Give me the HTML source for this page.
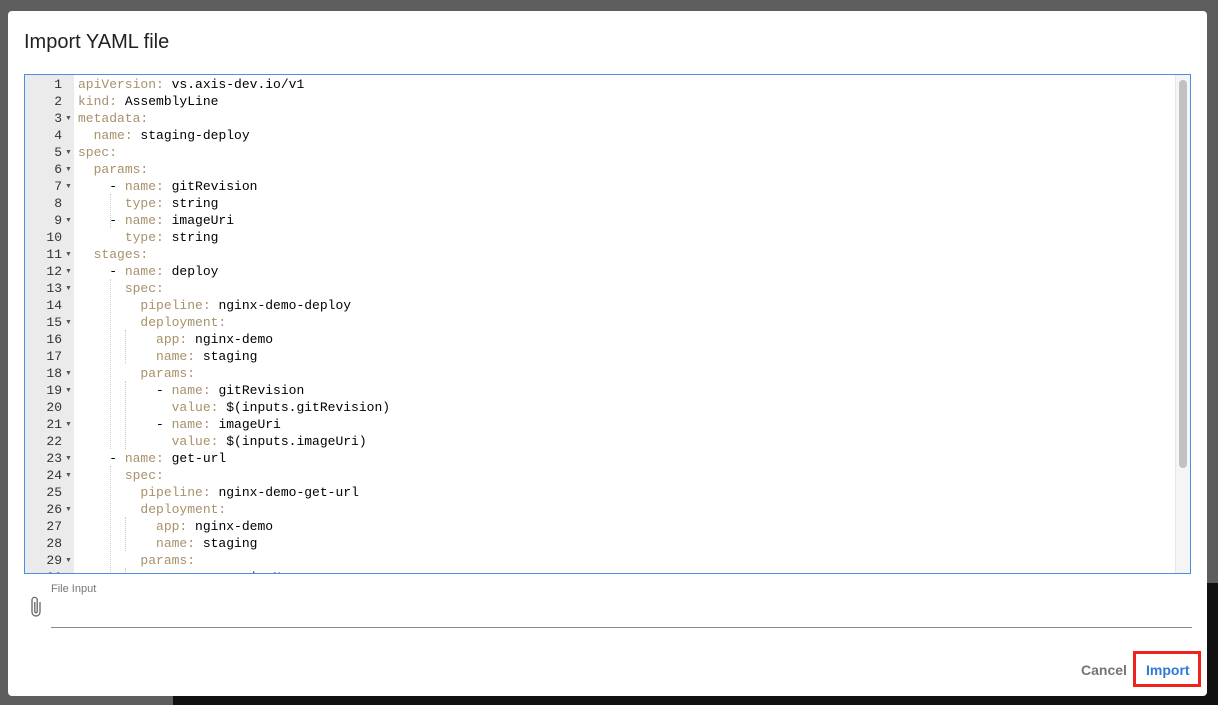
<!DOCTYPE html>
<html><head><meta charset="utf-8"><style>
body{margin:0;width:1218px;height:705px;overflow:hidden;background:#5e5e5e;position:relative;font-family:"Liberation Sans",sans-serif}
.dark{position:absolute;left:173px;top:583px;width:1045px;height:122px;background:#111}
.dlg{position:absolute;left:8px;top:11px;width:1199px;height:685px;background:#fff;border-radius:4px}
.title{position:absolute;left:24px;top:31px;font-size:20px;color:#212121;font-weight:500}
.ed{position:absolute;left:24px;top:74px;width:1165px;height:498px;border:1px solid #4a8fe0;overflow:hidden;background:#fff}
.gut{position:absolute;left:0;top:0;width:49px;height:100%;background:#ebebeb}
.ln{position:absolute;font-family:"Liberation Mono",monospace;font-size:13px;line-height:17px;height:17px;white-space:pre;color:#000}
.num{width:37px;text-align:right;left:0;color:#333}
.fa{position:absolute;left:40px;font-size:7px;color:#555;line-height:17px}
.k{color:#a8916b}
.sb{position:absolute;right:0;top:0;width:14px;height:100%;background:#f5f5f5;border-left:1px solid #e8e8e8}
.th{position:absolute;left:3px;top:5px;width:8px;height:388px;background:#c1c1c1;border-radius:4px}
.g{position:absolute;border-left:1px dotted #ccc;width:0}
</style></head><body>
<div class="dark"></div>
<div class="dlg"></div>
<div class="title">Import YAML file</div>
<div class="ed">
<div class="gut"></div>
<div id="c"></div>
<div class="g" style="left:85px;top:119px;height:34px"></div>
<div class="g" style="left:85px;top:204px;height:170px"></div>
<div class="g" style="left:100px;top:255px;height:34px"></div>
<div class="g" style="left:100px;top:306px;height:68px"></div>
<div class="g" style="left:85px;top:391px;height:110px"></div>
<div class="g" style="left:100px;top:442px;height:34px"></div>
<div class="g" style="left:100px;top:493px;height:10px"></div>
<div class="sb"><div class="th"></div></div>
</div>
<svg style="position:absolute;left:29px;top:595px" width="14" height="24" viewBox="0 0 14 24"><path d="M11 7v10a4 4 0 0 1-8 0V5a2.6 2.6 0 0 1 5.2 0v11.5a1.2 1.2 0 0 1-2.4 0V7" fill="none" stroke="#666" stroke-width="1.3"/></svg>
<div style="position:absolute;left:51px;top:583px;font-size:11px;color:#757575">File Input</div>
<div style="position:absolute;left:51px;top:627px;width:1141px;height:1px;background:#8a8a8a"></div>
<div style="position:absolute;left:1081px;top:662px;font-size:14px;color:#757575;font-weight:bold">Cancel</div>
<div style="position:absolute;left:1133px;top:651px;width:62px;height:30px;border:3px solid #f0231c"></div>
<div style="position:absolute;left:1146px;top:662px;font-size:14px;color:#2f7ad6;font-weight:bold">Import</div>
<script>
var L=[["","apiVersion:"," vs.axis-dev.io/v1"],["","kind:"," AssemblyLine"],["","metadata:",""],["  ","name:"," staging-deploy"],["","spec:",""],["  ","params:",""],["    - ","name:"," gitRevision"],["      ","type:"," string"],["    - ","name:"," imageUri"],["      ","type:"," string"],["  ","stages:",""],["    - ","name:"," deploy"],["      ","spec:",""],["        ","pipeline:"," nginx-demo-deploy"],["        ","deployment:",""],["          ","app:"," nginx-demo"],["          ","name:"," staging"],["        ","params:",""],["          - ","name:"," gitRevision"],["            ","value:"," $(inputs.gitRevision)"],["          - ","name:"," imageUri"],["            ","value:"," $(inputs.imageUri)"],["    - ","name:"," get-url"],["      ","spec:",""],["        ","pipeline:"," nginx-demo-get-url"],["        ","deployment:",""],["          ","app:"," nginx-demo"],["          ","name:"," staging"],["        ","params:",""],["          - ","name:"," serviceName"]];
var F=[3,5,6,7,9,11,12,13,15,18,19,21,23,24,26,29,30];
var h="";
for(var i=0;i<L.length;i++){var t=1+i*17;
h+='<div class="ln num" style="top:'+t+'px">'+(i+1)+'</div>';
if(F.indexOf(i+1)>=0)h+='<div class="fa" style="top:'+t+'px">&#9660;</div>';
h+='<div class="ln" style="left:53px;top:'+t+'px">'+L[i][0]+'<span class="k">'+L[i][1]+'</span>'+L[i][2]+'</div>';}
document.getElementById("c").innerHTML=h;
</script>
</body></html>
